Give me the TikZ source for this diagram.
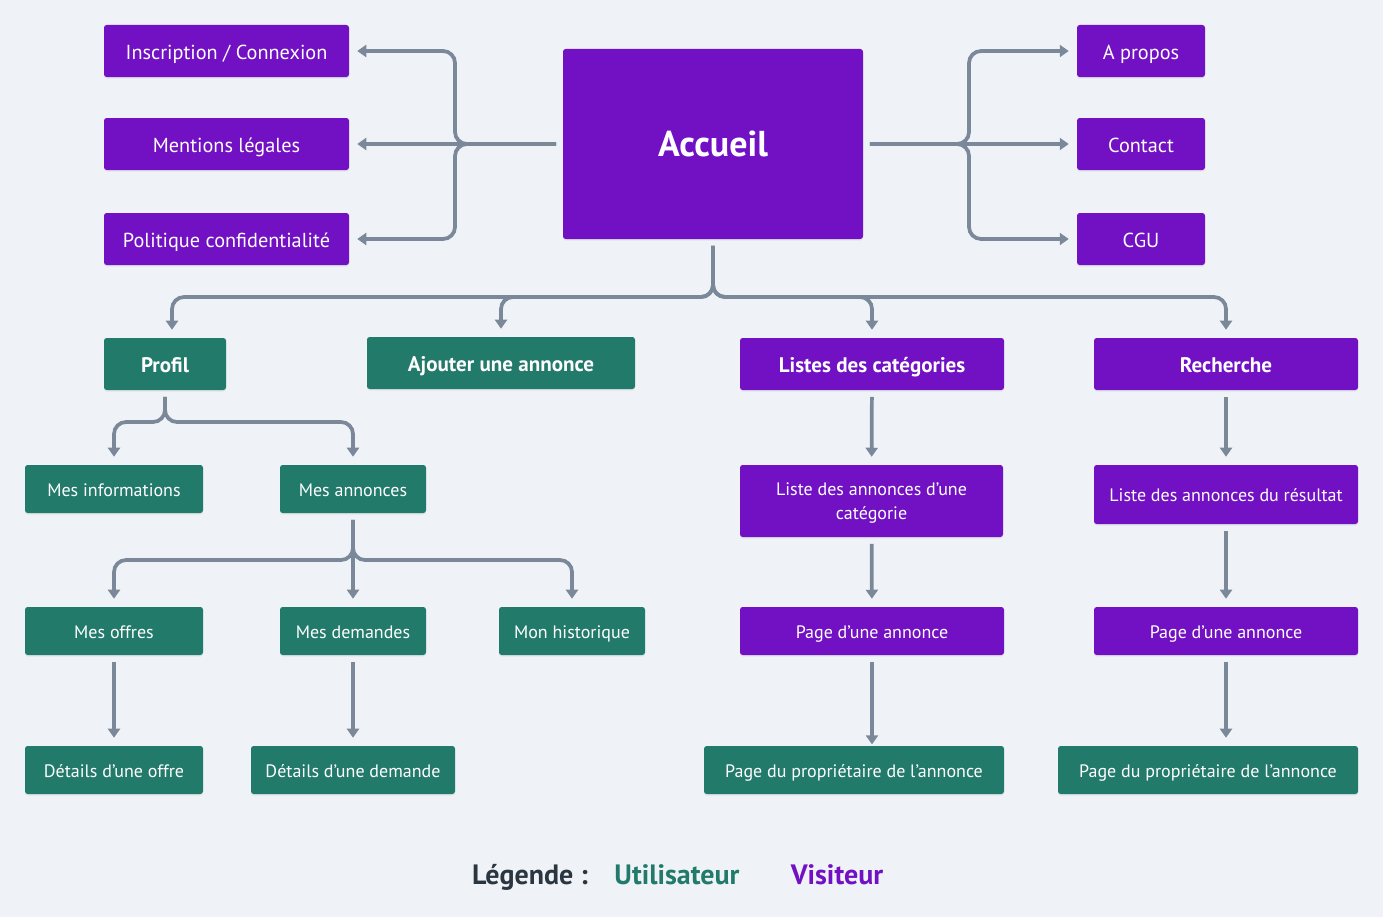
\documentclass[tikz,border=0pt]{standalone}
\usepackage{fontspec}
\setmainfont{PT Sans}
\usetikzlibrary{arrows.meta,positioning,calc,shadows}

\definecolor{fond}{HTML}{EFF3F7}
\definecolor{visiteur}{HTML}{7210C3}
\definecolor{utilisateur}{HTML}{217A6A}
\definecolor{trait}{HTML}{7A8899}
\definecolor{legende}{HTML}{2B3640}

\tikzset{
  boite/.style 2 args={minimum width=#1*0.75pt, minimum height=#2*0.75pt},
  page/.style={rounded corners=2pt, text=white, align=center, inner sep=0pt,
    font=\fontsize{13.5}{18}\selectfont, text height=10.9pt, text depth=0pt,
    drop shadow={shadow xshift=0pt, shadow yshift=-1.2pt, opacity=0.12}},
  vis/.style={page, fill=visiteur},
  util/.style={page, fill=utilisateur},
  grand/.style={font=\fontsize{15.2}{18}\selectfont, text height=12.1pt},
  titre/.style={font=\bfseries\fontsize{15.8}{18}\selectfont, text height=12.6pt},
  leg/.style={font=\bfseries\fontsize{21}{24}\selectfont, text height=14.7pt, text depth=0pt},
  lien/.style={draw=trait, line width=2.8pt, rounded corners=9pt,
    -{Triangle[width=9pt,length=6.75pt]}, shorten >=6pt, shorten <=5pt}
}

\begin{document}
\begin{tikzpicture}[x=0.75pt,y=-0.75pt]

\fill[fond] (0,0) rectangle (1383,917);
\useasboundingbox (0,0) rectangle (1383,917);

\node[vis, boite={300}{190}, font=\bfseries\fontsize{27}{30}\selectfont, text height=18.9pt] (acc) at (713,144) {Accueil};

\node[vis, grand, boite={245}{52}] (insc)  at (226.5,51)  {Inscription / Connexion};
\node[vis, grand, boite={245}{52}] (ment)  at (226.5,144) {Mentions légales};
\node[vis, grand, boite={245}{52}] (polit) at (226.5,239) {Politique confidentialité};

\node[vis, grand, boite={128}{52}] (apropos) at (1141,51)  {A propos};
\node[vis, grand, boite={128}{52}] (contact) at (1141,144) {Contact};
\node[vis, grand, boite={128}{52}] (cgu)     at (1141,239) {CGU};

\node[util, titre, boite={122}{52}] (profil) at (165,364)  {Profil};
\node[util, titre, boite={268}{52}] (ajout)  at (501,363)  {Ajouter une annonce};
\node[vis, titre, boite={264}{52}]  (listes) at (872,364)  {Listes des catégories};
\node[vis, titre, boite={264}{52}]  (rech)   at (1226,364) {Recherche};

\node[util, boite={178}{48}] (minfo) at (114,489)   {Mes informations};
\node[util, boite={146}{48}] (mann)  at (353,489)   {Mes annonces};
\node[vis, boite={263}{72}, text height=27.5pt] (lcat) at (871.5,501) {Liste des annonces d’une\\catégorie};
\node[vis, boite={264}{59}]  (lres)  at (1226,494.5) {Liste des annonces du résultat};

\node[util, boite={178}{48}] (moffres) at (114,631)  {Mes offres};
\node[util, boite={146}{48}] (mdem)    at (353,631)  {Mes demandes};
\node[util, boite={146}{48}] (mhist)   at (572,631)  {Mon historique};
\node[vis, boite={264}{48}]  (pcat)    at (872,631)  {Page d’une annonce};
\node[vis, boite={264}{48}]  (pres)    at (1226,631) {Page d’une annonce};

\node[util, boite={178}{48}] (doffre)  at (114,770)  {Détails d’une offre};
\node[util, boite={204}{48}] (ddem)    at (353,770)  {Détails d’une demande};
\node[util, boite={300}{48}] (propcat) at (854,770)  {Page du propriétaire de l’annonce};
\node[util, boite={300}{48}] (propres) at (1208,770) {Page du propriétaire de l’annonce};

\node[leg, text=legende] (legt) at (530,875) {Légende :};
\node[leg, text=utilisateur] (legu) at (677,875) {Utilisateur};
\node[leg, text=visiteur] (legv) at (837,875) {Visiteur};

\coordinate (gauche) at (455,144);
\coordinate (droite) at (969,144);
\coordinate (bas) at (713,297);
\coordinate (brprofil) at (165,422);
\coordinate (brannonces) at (353,560);

\draw[lien] (acc.west) -- (gauche) |- (insc);
\draw[lien] (acc) -- (ment);
\draw[lien] (acc.west) -- (gauche) |- (polit);
\draw[lien] (acc.east) -- (droite) |- (apropos);
\draw[lien] (acc) -- (contact);
\draw[lien] (acc.east) -- (droite) |- (cgu);

\draw[lien] (acc) -- (bas) -| ([xshift=5.25pt]profil.north);
\draw[lien] (acc) -- (bas) -| (ajout);
\draw[lien] (acc) -- (bas) -| (listes);
\draw[lien] (acc) -- (bas) -| (rech);

\draw[lien] (profil.south) -- (brprofil) -| (minfo);
\draw[lien] (profil.south) -- (brprofil) -| (mann);

\draw[lien] (mann) -- (brannonces) -| (moffres);
\draw[lien] (mann) -- (mdem);
\draw[lien] (mann) -- (brannonces) -| (mhist);

\draw[lien] (listes) -- (lcat);
\draw[lien] (lcat) -- (pcat);
\draw[lien, shorten >=1pt] (pcat) -- (pcat |- propcat.north);
\draw[lien] (rech) -- (lres);
\draw[lien] (lres) -- (pres);
\draw[lien] (pres) -- (pres |- propres.north);
\draw[lien] (moffres) -- (doffre);
\draw[lien] (mdem) -- (ddem);

\end{tikzpicture}
\end{document}
